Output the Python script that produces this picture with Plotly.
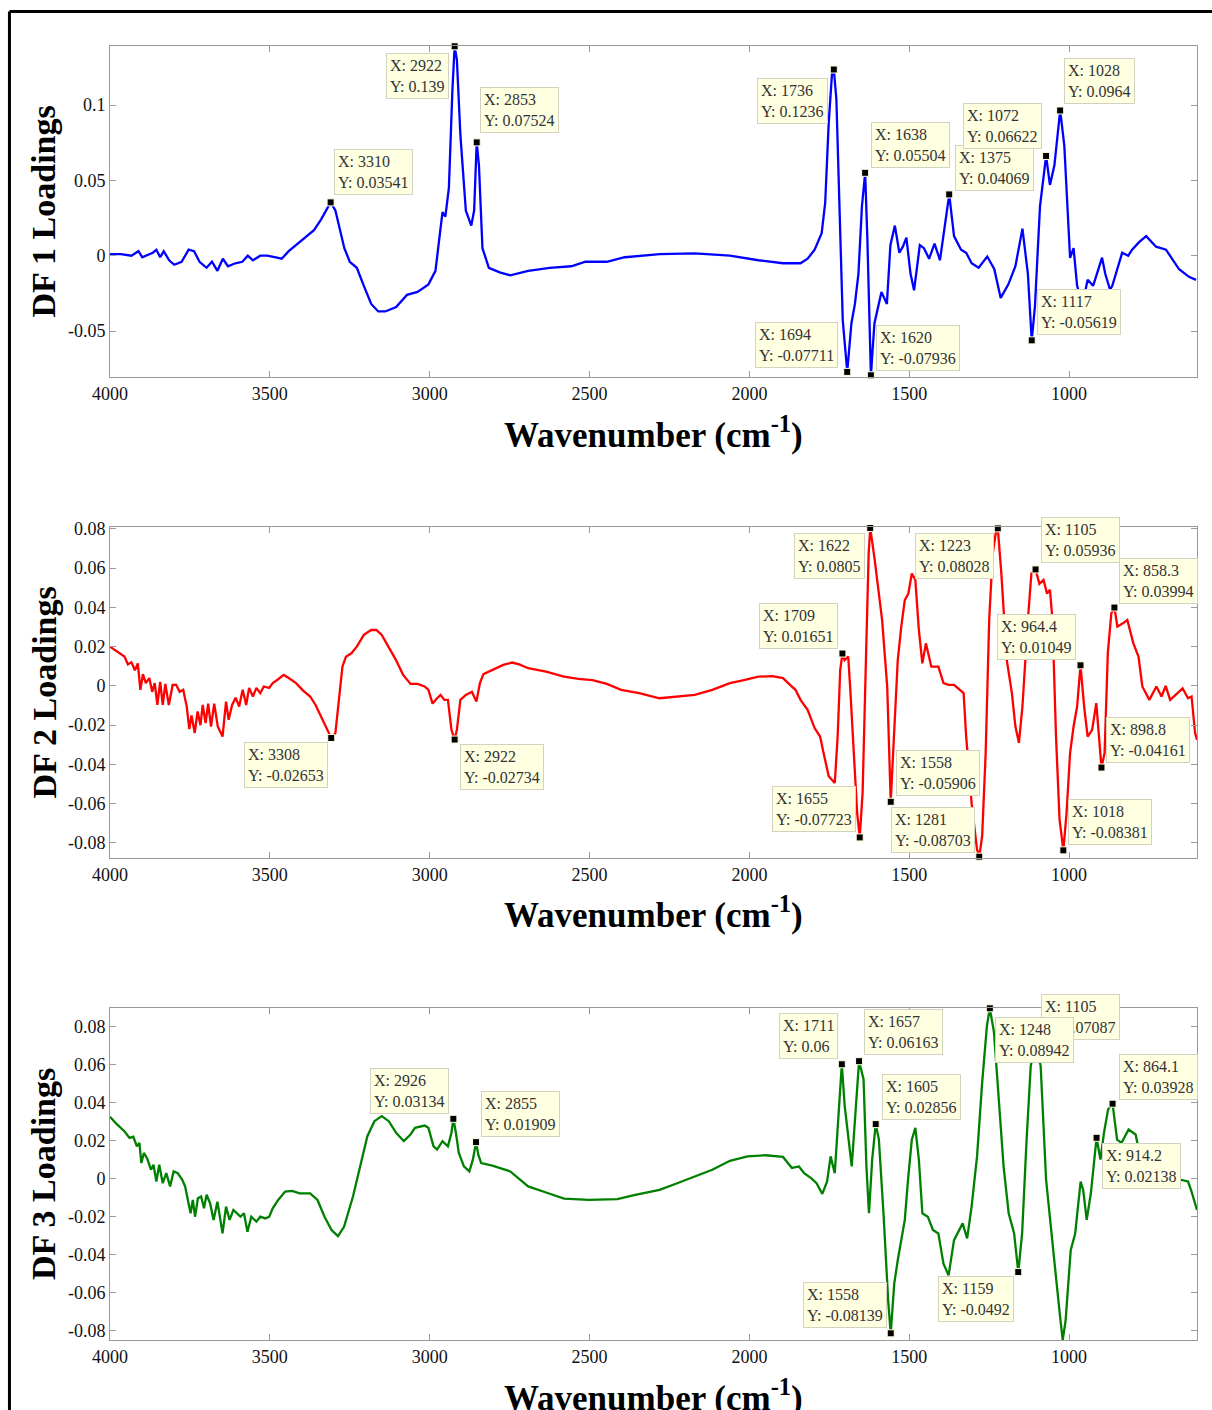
import plotly.graph_objects as go

# ---------------- data ----------------
wn1 = [4000, 3966, 3933, 3911, 3899, 3866, 3855, 3843, 3832, 3815, 3799, 3776, 3754, 3737, 3720, 3698,
       3681, 3664, 3647, 3631, 3608, 3586, 3569, 3553, 3530, 3508, 3485, 3463, 3441, 3424, 3396, 3362,
       3340, 3318, 3310, 3295, 3284, 3267, 3250, 3228, 3206, 3183, 3161, 3139, 3105, 3071, 3038, 3004,
       2982, 2971, 2960, 2951, 2940, 2929, 2922, 2915, 2904, 2887, 2870, 2861, 2853, 2846, 2835, 2815,
       2781, 2748, 2692, 2625, 2557, 2513, 2446, 2390, 2281, 2171, 2061, 1972, 1895, 1840, 1818, 1796,
       1774, 1763, 1752, 1741, 1736, 1728, 1719, 1708, 1694, 1681, 1670, 1659, 1648, 1638, 1631, 1620,
       1609, 1587, 1570, 1559, 1545, 1531, 1520, 1509, 1496, 1485, 1467, 1454, 1438, 1421, 1404, 1393,
       1375, 1360, 1338, 1322, 1305, 1283, 1256, 1234, 1214, 1190, 1168, 1146, 1129, 1117, 1107, 1091,
       1072, 1060, 1046, 1028, 1015, 997, 986, 975, 958, 942, 925, 897, 887, 872, 865, 834,
       815, 803, 781, 759, 728, 697, 656, 625, 603]
df1 = [0.001, 0.001, 0.000, 0.003, -0.001, 0.002, 0.004, -0.001, 0.003, -0.003, -0.006, -0.004, 0.004, 0.003, -0.004, -0.008,
       -0.004, -0.010, -0.002, -0.007, -0.005, -0.004, 0.000, -0.003, 0.000, 0.000, -0.001, -0.002, 0.003, 0.006, 0.011, 0.017,
       0.024, 0.033, 0.03541, 0.030, 0.020, 0.005, -0.004, -0.008, -0.020, -0.032, -0.037, -0.037, -0.034, -0.026, -0.024, -0.019,
       -0.010, 0.010, 0.029, 0.026, 0.045, 0.110, 0.139, 0.130, 0.080, 0.030, 0.020, 0.030, 0.07524, 0.060, 0.005, -0.008,
       -0.011, -0.013, -0.010, -0.008, -0.007, -0.004, -0.004, -0.001, 0.001, 0.0015, 0.000, -0.003, -0.005, -0.005, -0.002, 0.004,
       0.015, 0.035, 0.088, 0.123, 0.1236, 0.104, 0.033, -0.043, -0.07711, -0.045, -0.032, -0.012, 0.033, 0.05504, 0.011, -0.07936,
       -0.045, -0.024, -0.032, 0.007, 0.020, 0.002, 0.006, 0.012, -0.012, -0.023, 0.007, 0.005, -0.002, 0.008, -0.003, 0.015,
       0.04069, 0.013, 0.004, 0.002, -0.005, -0.008, -0.0005, -0.009, -0.028, -0.019, -0.007, 0.018, -0.012, -0.05619, -0.034, 0.033,
       0.06622, 0.047, 0.060, 0.0964, 0.073, -0.0015, 0.005, -0.020, -0.032, -0.016, -0.020, -0.0013, -0.012, -0.0226, -0.020, 0.002,
       0.000, 0.004, 0.009, 0.013, 0.006, 0.004, -0.009, -0.014, -0.016]

wn2 = [4000, 3978, 3955, 3944, 3933, 3922, 3913, 3905, 3897, 3888, 3877, 3868, 3860, 3852, 3843, 3835,
       3827, 3816, 3804, 3793, 3782, 3771, 3760, 3752, 3745, 3735, 3726, 3717, 3710, 3701, 3693, 3684,
       3674, 3663, 3648, 3637, 3629, 3618, 3607, 3596, 3585, 3574, 3565, 3553, 3542, 3530, 3519, 3502,
       3491, 3474, 3457, 3441, 3418, 3396, 3374, 3357, 3340, 3323, 3308, 3295, 3284, 3273, 3262, 3245,
       3228, 3206, 3183, 3167, 3150, 3128, 3105, 3083, 3060, 3038, 3016, 3004, 2991, 2977, 2966, 2954,
       2943, 2932, 2922, 2915, 2904, 2887, 2868, 2854, 2843, 2832, 2804, 2770, 2742, 2720, 2692, 2636,
       2580, 2535, 2491, 2446, 2401, 2345, 2281, 2226, 2171, 2116, 2061, 2017, 1972, 1928, 1895, 1873,
       1856, 1840, 1818, 1796, 1779, 1768, 1752, 1733, 1724, 1716, 1709, 1702, 1691, 1685, 1674, 1663,
       1655, 1646, 1635, 1627, 1622, 1608, 1585, 1569, 1558, 1547, 1536, 1525, 1514, 1503, 1492, 1481,
       1470, 1459, 1448, 1431, 1409, 1393, 1377, 1360, 1344, 1330, 1322, 1305, 1288, 1281, 1272, 1261,
       1250, 1239, 1228, 1223, 1212, 1195, 1179, 1168, 1157, 1146, 1129, 1118, 1105, 1093, 1080, 1069,
       1060, 1052, 1041, 1030, 1018, 1008, 997, 986, 975, 964.4, 953, 942, 928, 915, 898.8, 889,
       879, 868, 858.3, 849, 832, 818, 799, 783, 771, 749, 727, 711, 698, 684, 661, 645,
       628, 617, 606, 600]
df2 = [0.020, 0.0175, 0.015, 0.011, 0.012, 0.008, 0.0115, -0.002, 0.006, 0.0014, 0.004, -0.003, 0.0014, -0.0097, 0.002, -0.0097,
       0.001, -0.0097, 0.0005, 0.0005, -0.003, -0.002, -0.0105, -0.022, -0.015, -0.024, -0.013, -0.020, -0.0097, -0.019, -0.009, -0.0207,
       -0.009, -0.0207, -0.0258, -0.008, -0.0173, -0.0097, -0.006, -0.0105, -0.002, -0.0097, -0.001, -0.0054, -0.001, -0.0037, -0.0003, -0.001,
       0.0014, 0.0034, 0.0056, 0.004, 0.0014, -0.0024, -0.0054, -0.0097, -0.0156, -0.0215, -0.02653, -0.024, -0.0071, 0.0098, 0.0149, 0.0166,
       0.020, 0.026, 0.0285, 0.0285, 0.026, 0.020, 0.013, 0.0056, 0.001, 0.001, -0.0003, -0.002, -0.009, -0.0063, -0.0046, -0.0071,
       -0.0071, -0.0224, -0.02734, -0.0224, -0.0071, -0.0046, -0.003, -0.008, 0.0014, 0.006, 0.008, 0.0107, 0.0119, 0.011, 0.009, 0.0073,
       0.0047, 0.0036, 0.003, 0.001, -0.002, -0.0037, -0.0063, -0.0054, -0.0046, -0.002, 0.0014, 0.003, 0.0047, 0.005, 0.004, 0.0005,
       -0.002, -0.0071, -0.0122, -0.0215, -0.0258, -0.0342, -0.046, -0.0495, -0.0258, 0.0081, 0.01651, 0.0132, 0.015, -0.0003, -0.0342, -0.0647,
       -0.07723, -0.0546, 0.0166, 0.0675, 0.0805, 0.0641, 0.0336, -0.0003, -0.05906, -0.0258, 0.0132, 0.0302, 0.0437, 0.047, 0.0573, 0.054,
       0.0285, 0.0115, 0.0217, 0.0098, 0.0098, 0.0014, 0.0005, 0.0005, -0.002, -0.0037, -0.0258, -0.0597, -0.0834, -0.08703, -0.0766, -0.0342,
       0.0336, 0.0675, 0.0793, 0.08028, 0.0573, 0.0132, -0.0037, -0.0207, -0.029, -0.0105, 0.0336, 0.0573, 0.05936, 0.052, 0.054, 0.047,
       0.049, 0.0336, -0.0258, -0.068, -0.08381, -0.0647, -0.0342, -0.0207, -0.0105, 0.01049, -0.0105, -0.0258, -0.0224, -0.0088, -0.04161, -0.0342,
       0.0166, 0.037, 0.03994, 0.0302, 0.0319, 0.0336, 0.0217, 0.015, -0.0003, -0.0071, -0.0003, -0.0054, 0.0, -0.0071, -0.0037, -0.0012,
       -0.0063, -0.0054, -0.024, -0.0275]

wn3 = [4000, 3978, 3955, 3939, 3927, 3916, 3908, 3902, 3894, 3883, 3872, 3864, 3855, 3846, 3835, 3824,
       3812, 3801, 3788, 3774, 3765, 3756, 3748, 3741, 3734, 3725, 3715, 3706, 3698, 3687, 3676, 3664,
       3648, 3637, 3626, 3614, 3603, 3592, 3581, 3570, 3558, 3542, 3530, 3514, 3502, 3491, 3474, 3452,
       3430, 3407, 3374, 3351, 3329, 3307, 3287, 3268, 3240, 3218, 3195, 3173, 3150, 3128, 3105, 3081,
       3060, 3046, 3016, 3004, 2988, 2977, 2960, 2943, 2932, 2926, 2918, 2909, 2893, 2876, 2865, 2855,
       2848, 2839, 2804, 2748, 2692, 2636, 2580, 2502, 2413, 2357, 2281, 2226, 2171, 2116, 2061, 2006,
       1950, 1895, 1867, 1845, 1829, 1807, 1790, 1772, 1757, 1746, 1733, 1724, 1711, 1702, 1693, 1680,
       1669, 1657, 1643, 1634, 1626, 1616, 1605, 1595, 1580, 1566, 1558, 1547, 1536, 1525, 1514, 1503,
       1492, 1481, 1470, 1459, 1442, 1426, 1409, 1393, 1377, 1360, 1344, 1333, 1319, 1305, 1288, 1272,
       1257, 1248, 1235, 1222, 1205, 1189, 1172, 1159, 1147, 1133, 1120, 1105, 1089, 1072, 1056, 1039,
       1028, 1020, 1011, 1003, 995, 981, 964, 956, 945, 932, 921, 914.2, 902, 891, 878, 864.1,
       850, 836, 814, 792, 771, 738, 694, 650, 628, 617, 600]
df3 = [0.0324, 0.0284, 0.0248, 0.0213, 0.0219, 0.0169, 0.0187, 0.0081, 0.0134, 0.0102, 0.0046, 0.0072, -0.0016, 0.0072, -0.0025, 0.0028,
       -0.0042, 0.0037, 0.0028, -0.0007, -0.0042, -0.0113, -0.0183, -0.0113, -0.0201, -0.0104, -0.0095, -0.0157, -0.0086, -0.013, -0.0218, -0.0122,
       -0.0289, -0.0148, -0.0218, -0.0166, -0.0183, -0.0201, -0.0183, -0.028, -0.0201, -0.0227, -0.0201, -0.021, -0.0201, -0.0157, -0.0113, -0.0069,
       -0.0065, -0.0078, -0.0078, -0.0113, -0.0201, -0.0271, -0.0303, -0.0254, -0.0095, 0.0063, 0.0222, 0.0301, 0.0328, 0.0301, 0.024, 0.0196,
       0.0231, 0.0266, 0.0278, 0.0266, 0.0169, 0.0152, 0.0196, 0.0169, 0.024, 0.03134, 0.024, 0.0134, 0.0063, 0.0037, 0.0099, 0.01909,
       0.0125, 0.0081, 0.0067, 0.0037, -0.0042, -0.0074, -0.0106, -0.0113, -0.0109, -0.0086, -0.006, -0.0025, 0.001, 0.0046, 0.0093, 0.0116,
       0.0122, 0.0113, 0.0055, 0.0063, 0.0028, 0.0002, -0.0025, -0.0081, -0.0016, 0.0116, 0.0028, 0.024, 0.0600, 0.0381, 0.0248, 0.0063,
       0.0328, 0.06163, 0.0522, 0.0063, -0.0183, 0.0099, 0.02856, 0.0204, -0.0201, -0.0641, -0.08139, -0.0553, -0.043, -0.0333, -0.0218, 0.001,
       0.0204, 0.0266, 0.0099, -0.0183, -0.0201, -0.0271, -0.0289, -0.0448, -0.0509, -0.0324, -0.0271, -0.0236, -0.0315, -0.0148, 0.0116, 0.0504,
       0.0804, 0.08942, 0.0768, 0.0451, 0.0063, -0.0183, -0.0289, -0.0492, -0.0289, 0.0204, 0.0592, 0.07087, 0.0592, -0.0007, -0.0289, -0.0553,
       -0.073, -0.08491, -0.0747, -0.0571, -0.0377, -0.0289, -0.0016, -0.006, -0.0218, -0.0078, 0.0099, 0.02138, 0.0099, 0.024, 0.0363, 0.03928,
       0.0204, 0.0187, 0.0257, 0.0231, 0.0063, 0.0037, 0.001, -0.0007, -0.0016, -0.0069, -0.0166]

# data tips: (wavenumber, value, label X, label Y)
tips1_x = [3310, 2922, 2853, 1736, 1638, 1375, 1072, 1028, 1694, 1620, 1117]
tips1_y = [0.03541, 0.139, 0.07524, 0.1236, 0.05504, 0.04069, 0.06622, 0.0964, -0.07711, -0.07936, -0.05619]
tips1_lx = ["3310", "2922", "2853", "1736", "1638", "1375", "1072", "1028", "1694", "1620", "1117"]
tips1_ly = ["0.03541", "0.139", "0.07524", "0.1236", "0.05504", "0.04069", "0.06622", "0.0964", "-0.07711", "-0.07936", "-0.05619"]

tips2_x = [3308, 2922, 1622, 1223, 1105, 858.3, 1709, 964.4, 1655, 1558, 1281, 1018, 898.8]
tips2_y = [-0.02653, -0.02734, 0.0805, 0.08028, 0.05936, 0.03994, 0.01651, 0.01049, -0.07723, -0.05906, -0.08703, -0.08381, -0.04161]
tips2_lx = ["3308", "2922", "1622", "1223", "1105", "858.3", "1709", "964.4", "1655", "1558", "1281", "1018", "898.8"]
tips2_ly = ["-0.02653", "-0.02734", "0.0805", "0.08028", "0.05936", "0.03994", "0.01651", "0.01049", "-0.07723", "-0.05906", "-0.08703", "-0.08381", "-0.04161"]

tips3_x = [2926, 2855, 1711, 1657, 1605, 1105, 1248, 864.1, 914.2, 1558, 1159, 1020]
tips3_y = [0.03134, 0.01909, 0.06, 0.06163, 0.02856, 0.07087, 0.08942, 0.03928, 0.02138, -0.08139, -0.0492, -0.08491]
tips3_lx = ["2926", "2855", "1711", "1657", "1605", "1105", "1248", "864.1", "914.2", "1558", "1159", "1020"]
tips3_ly = ["0.03134", "0.01909", "0.06", "0.06163", "0.02856", "0.07087", "0.08942", "0.03928", "0.02138", "-0.08139", "-0.0492", "-0.08491"]

# label box placement relative to each tip marker (anchor x, anchor y, dx px, dy px)
place1 = [("left", "bottom", 3, 7), ("right", "top", -6, -7), ("left", "bottom", 3, 9), ("right", "top", -6, -8),
          ("left", "bottom", 6, 5), ("left", "bottom", 6, 3), ("right", "bottom", -4, 7), ("left", "bottom", 4, 6),
          ("right", "bottom", -9, 4), ("left", "bottom", 5, 4), ("left", "bottom", 5, 5)]
place2 = [("right", "top", -3, -4), ("left", "top", 5, -4), ("right", "top", -5, -5), ("right", "top", -4, -5),
          ("left", "bottom", 5, 6), ("left", "bottom", 5, 4), ("right", "bottom", -4, 5), ("right", "bottom", -5, 5),
          ("right", "bottom", -4, 5), ("left", "bottom", 5, 6), ("right", "bottom", -4, 4), ("left", "bottom", 5, 5),
          ("left", "bottom", 5, 5)]
place3 = [("right", "bottom", -4, 5), ("left", "bottom", 5, 5), ("right", "bottom", -4, 5), ("left", "bottom", 5, 6),
          ("left", "bottom", 6, 4), ("left", "bottom", 5, 4), ("left", "top", 5, -9), ("left", "bottom", 6, 4),
          ("left", "top", 5, -5), ("right", "bottom", -4, 5), ("right", "top", -4, -4), ("left", "bottom", 6, 5)]

xticks = [4000, 3500, 3000, 2500, 2000, 1500, 1000]
y1ticks = [-0.05, 0, 0.05, 0.1]
y1text = ["-0.05", "0", "0.05", "0.1"]
y23ticks = [-0.08, -0.06, -0.04, -0.02, 0, 0.02, 0.04, 0.06, 0.08]
y23text = ["-0.08", "-0.06", "-0.04", "-0.02", "0", "0.02", "0.04", "0.06", "0.08"]

# ---------------- figure ----------------
FONT = "Liberation Serif, Times New Roman, serif"
AXC = "#9a9a9a"
fig = go.Figure()

panels = [
    (wn1, df1, "#0000ff", tips1_x, tips1_y, tips1_lx, tips1_ly, place1, "DF 1 Loadings", [-0.0805, 0.1392], y1ticks, y1text),
    (wn2, df2, "#ff0000", tips2_x, tips2_y, tips2_lx, tips2_ly, place2, "DF 2 Loadings", [-0.0877, 0.081], y23ticks, y23text),
    (wn3, df3, "#008000", tips3_x, tips3_y, tips3_lx, tips3_ly, place3, "DF 3 Loadings", [-0.0849, 0.0896], y23ticks, y23text),
]
domains = [[0.7442, 1.0], [0.3725, 0.6283], [0.0, 0.2566]]

annotations = []
for i, (wx, wy, col, tx, ty, tlx, tly, plc, ylab, yr, ytv, ytt) in enumerate(panels):
    n = "" if i == 0 else str(i + 1)
    fig.add_trace(go.Scatter(x=wx, y=wy, mode="lines", line=dict(color=col, width=2.3),
                             xaxis="x" + n, yaxis="y" + n, showlegend=False, hoverinfo="skip"))
    fig.add_trace(go.Scatter(x=tx, y=ty, mode="markers", cliponaxis=False,
                             marker=dict(symbol="square", size=7, color="black",
                                         line=dict(color="#ffffe0", width=1)),
                             xaxis="x" + n, yaxis="y" + n, showlegend=False, hoverinfo="skip"))
    common = dict(showgrid=False, zeroline=False, showline=True, linecolor=AXC, linewidth=1,
                  mirror="ticks", ticks="inside", ticklen=6, tickcolor=AXC, tickwidth=1,
                  tickfont=dict(family=FONT, size=18, color="#111"))
    fig.update_layout(**{
        "xaxis" + n: dict(range=[4000, 600], tickvals=xticks, ticktext=[str(v) for v in xticks],
                          anchor="y" + n, **common),
        "yaxis" + n: dict(range=yr, domain=domains[i], tickvals=ytv, ticktext=ytt,
                          anchor="x" + n, **common),
    })
    for (x, y, lx, ly, (xa, ya, dx, dy)) in zip(tx, ty, tlx, tly, plc):
        annotations.append(dict(x=x, y=y, xref="x" + n, yref="y" + n, showarrow=False,
                                text="X: %s<br>Y: %s" % (lx, ly), align="left",
                                xanchor=xa, yanchor=ya, xshift=dx, yshift=dy,
                                font=dict(family=FONT, size=16, color="#333"),
                                bgcolor="#ffffe1", bordercolor="#d2d2c0", borderwidth=1, borderpad=3))
    # axis titles
    annotations.append(dict(x=0.5, y=domains[i][0], xref="paper", yref="paper", showarrow=False,
                            text="<b>Wavenumber (cm<sup>-1</sup>)</b>", xanchor="center", yanchor="middle",
                            yshift=-55, font=dict(family=FONT, size=35, color="#000")))
    annotations.append(dict(x=0, y=(domains[i][0] + domains[i][1]) / 2, xref="paper", yref="paper",
                            showarrow=False, text="<b>%s</b>" % ylab, textangle=-90,
                            xanchor="center", yanchor="middle", xshift=-66,
                            font=dict(family=FONT, size=34, color="#000")))

# outer frame (left and top edges)
shapes = [dict(type="line", xref="paper", yref="paper", x0=-0.0925, x1=-0.0925, y0=-0.06, y1=1.0267,
               line=dict(color="black", width=3)),
          dict(type="line", xref="paper", yref="paper", x0=-0.0925, x1=1.02, y0=1.0267, y1=1.0267,
               line=dict(color="black", width=3))]

fig.update_layout(width=1212, height=1410, margin=dict(l=110, r=15, t=46, b=70),
                  paper_bgcolor="white", plot_bgcolor="white",
                  annotations=annotations, shapes=shapes, showlegend=False)

fig.write_html("out.html")
